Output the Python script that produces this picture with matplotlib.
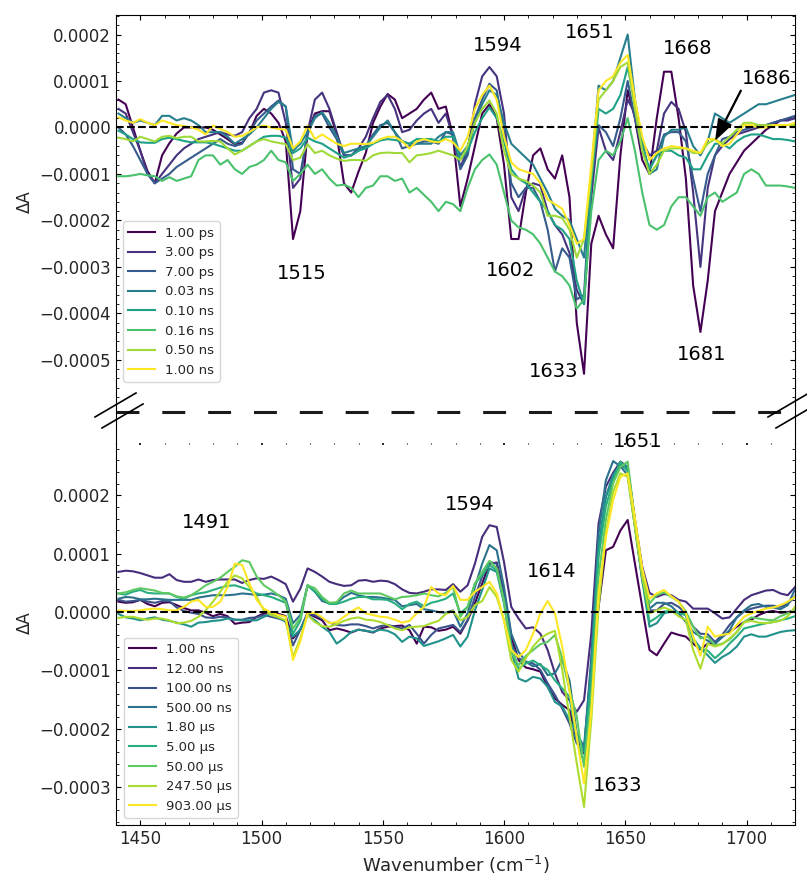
import numpy as np
import matplotlib
matplotlib.use("Agg")
import matplotlib.pyplot as plt
from matplotlib.ticker import AutoMinorLocator
from matplotlib.lines import Line2D

# ---------------- data (values in units of 1e-5 dA) ----------------
wavenumber = np.arange(1441, 1721, 3)

top_labels = ["1.00 ps", "3.00 ps", "7.00 ps", "0.03 ns", "0.10 ns", "0.16 ns", "0.50 ns", "1.00 ns"]
bottom_labels = ["1.00 ns", "12.00 ns", "100.00 ns", "500.00 ns", "1.80 \u00b5s", "5.00 \u00b5s",
                 "50.00 \u00b5s", "247.50 \u00b5s", "903.00 \u00b5s"]

t_1ps = [6, 5, 0, -5, -9.4, -12, -6, -3.4, -1.3, 0,
         0, 0, 0, -0.5, -1.5, -2.5, -3.6, -3.3, -1.2, 2.5,
         4, 3, 1, -3, -24, -18, -1, 3, 3.5, 3.5,
         -1.5, -12, -14, -9.5, -5.5, 1, 4.5, 7.2, 6, 2,
         3, 4, 6, 7.5, 4, 4.5, -2, -17, -11, -4,
         3, 5, 2, -8, -24, -24, -14, -6, -4.5, -9,
         -11, -6, -15, -42, -53, -25, -19, -23, -26, -6,
         8, 2, -7, -10, 2, 12, 12, 2, -11, -34,
         -44, -33, -18, -14, -10, -7.5, -5, -3.5, -2, -0.5,
         0.5, 1.5, 1.8, 2]
t_3ps = [4, 3, -1, -5, -10, -12, -10, -8, -6, -4.5,
         -3.5, -2.5, -2, -1.5, -1, -1.5, -1.8, -1, 2, 4,
         7.5, 8, 7.5, 1, -13, -11, -1, 6, 7.5, 4,
         -1, -6, -6, -4.5, -2, 2, 5.5, 7, 4, -1,
         -0.5, 1.5, 3, 4, 1, 3, -2, -8.5, -5, 5,
         11, 13, 11, 3, -15, -18, -13, -12, -12.5, -18,
         -21, -23, -27, -35, -38, -15, 0, -5, -7, -1,
         6, 3, -3, -6, -5, 3, 5.5, 4, -1, -14,
         -30, -13, -6, -4, -2.5, -1.5, -1, -0.5, 0, 0.5,
         1, 1.5, 1.5, 2]
t_7ps = [0, -1.5, -4, -7, -10, -12, -11, -10, -8.5, -7.5,
         -6.5, -5.5, -4.5, -3.5, -2.5, -3.5, -4, -3.5, -1, 1.5,
         3, 4.5, 5.8, 4.5, -9, -10, -1.5, 2.5, 3, 0,
         -2.5, -6, -6, -5, -4, -1.5, 0.5, 1, -1, -4.5,
         -4, -3.5, -3, -3, -3.5, -1, -1.5, -9, -6, 2,
         6, 9.4, 8, -1, -12, -15, -13, -13, -16, -22,
         -31, -26, -28, -37, -36, -10, 0.5, -1, -4, 2,
         10, 2, -5, -9, -6, -1.5, -1, -1, -3, -11,
         -18, -10, -6, -2.5, -2, -1, -0.5, 0, 0.5, 0.5,
         1, 1.5, 2, 2.5]
t_003ns = [3, 2, 1, 1.5, 1, 0.5, 2.5, 2.5, 1.5, 2,
           1.5, 0.5, -1, -1, -1, -2, -3.5, -2.5, -1.5, 0,
           2, 4, 5.5, 4.5, -5, -3.5, -1, 2, 3.3, 1,
           -2, -5.5, -5, -4.5, -4, -2, 0, 1.5, -1, -3,
           -3.5, -3.5, -3.5, -3.5, -2, -1, -1, -6, -4, 1,
           5, 8, 7, 1, -3.5, -5, -6.5, -8, -11, -14,
           -17.5, -19, -20, -24, -28, -10, 9, 8, 10, 15,
           20, 6, -3, -10, -9, -2, -0.5, -0.5, 0, -4,
           -6, -3, 3, 2, 1, 2, 3, 4, 5, 5,
           5.5, 6, 6.5, 7]
t_010ns = [-0.7, -1.5, -2.5, -3.2, -3.3, -3.3, -2.5, -2.2, -2.5, -2.9,
           -3.2, -3.2, -3.2, -3.5, -4, -4.5, -5, -5, -4, -3,
           -2, -1.8, -1.8, -2.2, -5.5, -4.5, -2.2, -3, -3.5, -4.5,
           -5.5, -6.5, -6, -5, -4.5, -3.5, -2.8, -2.5, -2.7, -3,
           -3.5, -2.5, -2.5, -2.5, -3, -2, -2, -7, -5, -1,
           2, 4.3, 2, -3, -9, -11, -12, -14, -16, -18,
           -21, -22, -24, -33, -38, -12, 4, 3, 4, 7,
           13, 5, -4, -9, -6, -5, -5, -6, -6.5, -9,
           -9, -6, -3.5, -3.5, -4.5, -3, -2, -1.5, -1.5, -2,
           -2.5, -2.5, -2.7, -3]
t_016ns = [-10.5, -10.5, -10.3, -10, -10.3, -10.5, -11.5, -10.7, -11.5, -11,
           -10.5, -7, -6, -6, -8, -7, -9, -10, -8.5, -8,
           -7, -5, -7, -7.5, -11.5, -10, -8, -10, -9, -11,
           -12.5, -12.3, -13, -15, -13, -12.5, -10.5, -10.5, -11.5, -11,
           -14, -13, -14.5, -16, -18, -16, -16.5, -18, -13, -9,
           -7, -5.8, -8, -14, -20, -21.5, -22, -23, -25, -28,
           -31, -32, -34, -39, -37, -18, -7, -5, -6, -3,
           2, -5, -14, -21, -22, -21, -17, -15, -15, -17,
           -19, -15, -14, -16, -15, -14, -10, -9, -10, -12.5,
           -12.5, -12.5, -12.7, -13]
t_050ns = [-2.2, -2.5, -3, -2, -2.5, -3, -2, -1.8, -2.3, -2,
           -2, -3, -3, -2.9, -3, -4.5, -5.8, -5, -4, -3,
           -2.5, -3, -3.3, -3.6, -7, -6.5, -3.6, -5.5, -5, -6,
           -6.7, -7.2, -7, -7, -7.2, -6, -5.5, -5.4, -5.5, -5.5,
           -7.5, -6, -5.8, -5.5, -5, -5.5, -6, -7, -4, 1,
           4, 5.8, 3, -5, -10, -11, -11.5, -12.5, -14, -19,
           -19, -19.5, -22, -28, -24, -10, 6, 8, 10, 13,
           14, 4, -5, -10, -8, -5, -4.5, -4.5, -4.5, -5.5,
           -5.5, -3.5, -2.5, -3.5, -2, -0.5, 1, 1, 0.5, 0.5,
           0.5, 0.5, 0.5, 0.5]
t_100ns = [2.2, 1.5, 1, 1.8, 1, 0.5, 1.5, 1, 0.5, 0.3,
           0, -0.5, -1.5, 0.4, -0.3, -1, -2, -1.8, -1, 0,
           0.4, 0, -0.3, -0.5, -4.5, -3, 0.4, -2.5, -1.5, -2.5,
           -3.5, -4, -3.5, -3.5, -3.6, -3.3, -2.5, -2, -2, -3,
           -4.5, -3, -2.5, -3, -3.2, -2.5, -3.2, -5, -2, 4,
           7, 9, 6, -2, -7.5, -9, -9.5, -10, -12, -15.5,
           -16.5, -17.5, -21, -25, -24, -8, 8, 10, 11, 14,
           15.6, 6, -2, -7, -5.5, -4.5, -4, -4.2, -4.5, -5,
           -5.5, -2.5, -2.5, -4, -3.5, -1.5, 0.5, 0.5, 0, 0,
           0.5, 0.5, 0.5, 1]

b_1ns = [1.8, 1.6, 1.7, 2.1, 1.4, 1, 1.6, 1.7, 1.2, 0.7,
         0.3, 0.3, -0.1, -0.7, -0.3, -0.7, -2, -1.8, -1.7, -0.8,
         -0.2, -0.2, -0.3, -0.7, -4.5, -3, -0.2, -0.8, -1.4, -3.1,
         -2.8, -3.1, -3.5, -3, -3.2, -3.5, -2.8, -2.5, -2.4, -2.3,
         -3.1, -5.4, -2.5, -2.6, -3.2, -3, -2.5, -3.7, -1.4, 1.5,
         4.9, 8.3, 8.5, 3.2, -4.2, -8.2, -9.5, -9.8, -10.2, -12.8,
         -14.8, -15.9, -16.8, -21.9, -24.2, -10.5, 0.9, 10.6, 11.2, 14,
         15.8, 8.3, 0.9, -6.5, -7.4, -5.4, -3.5, -3.9, -4.2, -5.4,
         -6.4, -5.4, -5.4, -4.2, -3.4, -2.5, -1.7, -1.3, -0.5, 0,
         0.2, -0.1, 0, 0.3]
b_12ns = [6.9, 7.1, 7, 6.7, 6.3, 5.9, 5.9, 6.5, 5.5, 5.2,
          5.2, 5.6, 5.2, 5.5, 5.6, 5.6, 5.6, 5, 5.5, 5.8,
          5.7, 6.1, 5.5, 4.8, 1.8, 4, 7.5, 6.9, 6.1, 5.2,
          4.8, 4.5, 4.6, 5.4, 5.5, 5.2, 5.4, 5.3, 4.8, 3.9,
          3.3, 3.2, 3.5, 3.9, 3.9, 3.8, 4.8, 3.5, 4.6, 8.3,
          12.9, 14.9, 14.6, 8.6, 0.9, -1.1, -2.8, -2.6, -3.7, -6.5,
          -10.5, -13.7, -15.1, -17.1, -15.1, -3.7, 15.2, 21.5, 23.9, 25.8,
          24.9, 15.8, 7.8, 3.3, 2.6, 3.1, 2.9, 2.1, 1.8, 0.6,
          0.6, 0.6, -0.2, -1.1, -0.9, 0.6, 2.1, 2.9, 3.3, 3.7,
          3.8, 3.2, 2.9, 4.3]
b_100ns = [2.1, 1.8, 1.9, 2.1, 1.8, 1.6, 1.9, 1.9, 0.8, 0.2,
           -0.1, -0.3, -0.9, -1, -0.8, -0.9, -1.3, -1.3, -1, -0.9,
           -0.5, -0.8, -1.1, -1.5, -5.7, -3, -0.2, -0.5, -1.1, -1.8,
           -2.2, -2.3, -2.1, -2.1, -2.4, -2.8, -2.4, -2.2, -2.5, -2.8,
           -2.2, -3.7, -5.4, -3.9, -2.8, -2.5, -2.2, -3.4, -1.4, 2.6,
           6.1, 8.6, 8.3, 2.6, -5.4, -7.9, -8.5, -8.8, -9.9, -12.2,
           -14.2, -16.5, -19.1, -22.5, -23.9, -7.7, 10.6, 19.8, 23.1, 25.2,
           24.5, 15.8, 6.1, 0.3, 0.3, 1.4, 1.6, 0.9, -0.2, -2.5,
           -3.7, -3.8, -5.1, -3.9, -2.2, -0.9, 0.1, 0.6, 0.9, 1.1,
           1.1, 0.9, 1.4, 2.7]
b_500ns = [2.3, 2.6, 2.5, 2.2, 2.2, 2.3, 2.2, 2.1, 2.1, 2.1,
           2.1, 2.5, 2.7, 2.9, 2.9, 2.9, 3, 3.2, 3.1, 2.9,
           3, 3.2, 2.9, 2.3, -1.9, -0.5, 4.6, 3.5, 1.9, 1.5,
           1.6, 2.6, 3.3, 2.9, 2.6, 2.6, 2.5, 2.3, 2.1, 1,
           1.2, 1.4, 0.5, 0.3, 0, -0.1, 0.3, -2.5, -0.2, 4.3,
           8.3, 11.5, 10.6, 4.3, -3.7, -6.8, -8.5, -9.3, -8.9, -10.8,
           -10.5, -8.2, -11.7, -20.8, -23.1, -8.8, 13.5, 22.6, 25.9, 25,
           23.5, 14.6, 5.5, 0.6, 1.6, 1.6, 1, -0.2, -1.7, -3.4,
           -4.2, -4.9, -5.4, -4.3, -3.1, -0.9, 0.3, 1.2, 1.4, 0.9,
           0.8, 0.5, 1.2, 3.9]
b_1p8us = [-0.3, -0.9, -1.1, -1.4, -1.1, -0.9, -1.3, -1.5, -1.8, -2.1,
           -2.5, -1.8, -1.7, -1.5, -1.4, -1.1, -1.3, -1.4, -1.4, -1.4,
           -0.8, -0.3, -0.9, -1.7, -4.2, -3, -0.5, -1.4, -2.5, -3.4,
           -5.4, -4.5, -3.4, -3, -3.2, -3.4, -3, -3.2, -3.8, -5.1,
           -4.2, -4.5, -5.8, -5.4, -5, -4.5, -3.9, -5.9, -4.2, 0.3,
           3.8, 7.5, 6.9, 1.5, -6.5, -11.4, -11.9, -11.1, -11.4, -12.8,
           -15.4, -16.2, -18.5, -20.8, -23.9, -9.4, 11.2, 19.8, 23.5, 25.5,
           24.9, 15.2, 5.5, -2.5, -1.9, -0.2, 0.1, -0.1, -0.5, -4.5,
           -6.2, -7.4, -8.7, -7.7, -7, -5.9, -4.2, -3.8, -4.2, -4.2,
           -3.8, -3.4, -3.2, -3.1]
b_5us = [3.2, 3, 3.5, 3.8, 3.3, 3.2, 3.2, 3.2, 2.6, 2.3,
         2.9, 3.2, 3.4, 3.8, 4.2, 4.5, 4.6, 4.2, 3.8, 3.2,
         2.9, 2.6, 2.1, 1.6, -3.7, -1.5, 4.6, 3.5, 2.3, 1.4,
         1.4, 1.8, 2.3, 2.6, 2.6, 2.2, 2.2, 2.1, 1.5, 0.5,
         1.4, 1.8, 1, 1.6, 1.9, 2.3, 3.2, -0.2, 0.9, 4.9,
         6.3, 8.1, 7.2, 2.1, -5.9, -9.7, -8.8, -8.3, -9.1, -9.9,
         -11.7, -13.1, -14.5, -21.9, -25.9, -11.7, 9.5, 18.1, 22.6, 25.8,
         24.1, 14.6, 6.1, -1.7, -0.9, 0.1, 0.2, -0.1, -0.5, -4.8,
         -6.2, -6.6, -7.9, -6.8, -5.4, -4.2, -2.8, -2.5, -2.2, -1.9,
         -1.7, -1.4, -1.1, -0.7]
b_50us = [3.2, 3.4, 3.8, 4.1, 3.9, 3.7, 3.3, 3.2, 2.7, 2.5,
          2.9, 3.7, 4.6, 5.2, 5.9, 6.9, 7.8, 8.9, 8.6, 6.1,
          4.6, 3.8, 2.9, 1.8, -2.8, -1, 4.6, 4.1, 2.6, 1.6,
          1.7, 3.2, 3.7, 3.2, 3.2, 3.2, 3.2, 2.7, 2.2, 2.6,
          2.7, 2.9, 3.2, 2.9, 2.7, 3.3, 4.3, -0.8, 0.9, 4.9,
          6.9, 8.8, 7.5, 1.8, -6.8, -9.1, -7.5, -6.5, -5.5, -5.1,
          -3.9, -7.9, -13.4, -17.9, -26.5, -15.1, 6.1, 15.8, 22.1, 24.9,
          25.8, 15.8, 7.2, 1.5, 2.9, 3.4, 2.6, 1.8, 0.1, -2.5,
          -4.5, -4.2, -5.7, -5.4, -4.7, -3.4, -1.7, -0.9, -1.1, -1.3,
          -1.4, -0.7, -0.2, 0.3]
b_247us = [-1, -0.8, -0.8, -1.1, -1.3, -1.1, -1.1, -1.4, -1.9, -1.8,
           -1.5, -0.8, 0.3, 1.8, 3.5, 5.2, 6.3, 5.8, 4.3, 2.6,
           0.3, -0.5, -0.9, -1.4, -7.7, -4.5, -0.5, -1.7, -2.4, -2.5,
           -2.1, -1.5, -1.1, -0.9, -1.3, -1.4, -1.7, -2.2, -2.8, -3.1,
           -2.6, -2.5, -2.4, -1.9, -1.5, -0.3, 0.2, -1.4, -0.8, 1.2,
           1.9, 4.3, 2.6, -1.4, -8.2, -10.2, -7.9, -5.9, -4.5, -3.7,
           -3.2, -9.9, -17.9, -25.9, -33.4, -18.5, 0.9, 13.5, 20.6, 23.8,
           23.2, 14.6, 6.1, -0.2, 0.3, 0.8, 0.3, -0.7, -1.4, -6.5,
           -9.7, -5.4, -5.9, -5.5, -4.5, -3.4, -1.7, -1.5, -1.8, -1.9,
           -1.7, -1.5, -0.7, 0.9]
b_903us = [0.3, 0.2, 0.2, 0.3, 0.5, 0.6, 0.5, 0.3, 0.3, 0.9,
           1.8, 2.1, 0.9, 0.9, 1.8, 4.3, 8.3, 8.1, 4.9, 2.1,
           0.6, -0.1, -0.5, -0.8, -8.2, -5, -0.2, -0.1, -0.9, -1.9,
           -1.7, -0.8, 0.1, 0.8, -0.2, -0.5, -0.8, -0.9, -1.3, -1.8,
           -1.5, -0.2, 0.9, 4.3, 3.2, 2.9, 4.5, 2.1, 2.1, 3.5,
           4.3, 5.2, 3.2, -1.4, -6.5, -7.7, -6.5, -3.7, -0.2, 1.9,
           -0.2, -5.9, -13.4, -21.4, -29.4, -16.8, 3.2, 12.9, 19.2, 23.2,
           23.8, 16.1, 7.5, 2.3, 3.2, 3.8, 2.7, 1.8, -0.2, -4.2,
           -7.5, -2.5, -4.2, -3.9, -3.7, -2.2, -0.8, -0.2, 0.2, 0.6,
           0.8, 1.2, 1.8, 2.6]

top_series = [t_1ps, t_3ps, t_7ps, t_003ns, t_010ns, t_016ns, t_050ns, t_100ns]
bottom_series = [b_1ns, b_12ns, b_100ns, b_500ns, b_1p8us, b_5us, b_50us, b_247us, b_903us]
UNIT = 1e-5

# ---------------- figure ----------------
W, H = 807, 875
plt.rcParams["font.family"] = "DejaVu Sans"
fig = plt.figure(figsize=(W / 100, H / 100), dpi=100)

def fx(px):
    return px / W

def fy(py):
    return 1 - py / H

L, R = 116, 795
T1, B1 = 15, 404
T2, B2 = 443, 825
ax1 = fig.add_axes([fx(L), fy(B1), fx(R) - fx(L), fy(T1) - fy(B1)])
ax2 = fig.add_axes([fx(L), fy(B2), fx(R) - fx(L), fy(T2) - fy(B2)])

txt = "#262626"
top_colors = plt.cm.viridis(np.linspace(0, 1, len(top_series)))
bot_colors = plt.cm.viridis(np.linspace(0, 1, len(bottom_series)))

for s, lab, c in zip(top_series, top_labels, top_colors):
    ax1.plot(wavenumber, np.array(s) * UNIT, color=c, lw=1.5, label=lab)
for s, lab, c in zip(bottom_series, bottom_labels, bot_colors):
    ax2.plot(wavenumber, np.array(s) * UNIT, color=c, lw=1.5, label=lab)

for ax in (ax1, ax2):
    ax.axhline(0, color="k", ls="--", lw=1.5, zorder=3)
    ax.set_xlim(1440, 1720)
    ax.xaxis.set_minor_locator(AutoMinorLocator())
    ax.yaxis.set_minor_locator(AutoMinorLocator())
    ax.ticklabel_format(axis="y", style="plain", useOffset=False)
    ax.set_ylabel("\u0394A", fontsize=12, color=txt)
    ax.tick_params(which="both", direction="in", labelsize=12, labelcolor=txt)

ax1.set_ylim(-5.95e-4, 2.42e-4)
ax2.set_ylim(-3.65e-4, 2.90e-4)

# y-label: anchor is the label's right edge (text bottom when rotated)
ax1.yaxis.set_label_coords((34 - L) / (R - L), (B1 - 202) / (B1 - T1))
ax2.yaxis.set_label_coords((34 - L) / (R - L), (B2 - 623) / (B2 - T2))

ax1.spines["bottom"].set_visible(False)
ax1.tick_params(which="both", top=True, right=True, bottom=False, labelbottom=False)
ax2.spines["top"].set_visible(False)
ax2.tick_params(which="both", top=False, right=True)
ax2.set_xlabel("Wavenumber (cm$^{-1}$)", fontsize=13, color=txt)

# faint tick marks of the hidden upper edge of the lower panel
sec = ax2.secondary_xaxis("top")
sec.xaxis.set_minor_locator(AutoMinorLocator())
sec.spines["top"].set_visible(False)
sec.tick_params(which="major", direction="in", length=1.5, width=1.2, labeltop=False)
sec.tick_params(which="minor", direction="in", length=1.0, width=0.8)

# legends
ax1.legend(loc="lower left", bbox_to_anchor=(7 / (R - L), 22 / (B1 - T1)), borderaxespad=0,
           fontsize=9.5, labelcolor=txt)
ax2.legend(loc="lower left", bbox_to_anchor=(8 / (R - L), 7 / (B2 - T2)), borderaxespad=0,
           fontsize=9.5, labelcolor=txt)

# peak annotations
ann = dict(fontsize=14, ha="center", va="center", color="k")
ax1.text(1516.7, -3.15e-4, "1515", **ann)
ax1.text(1597.5, 1.77e-4, "1594", **ann)
ax1.text(1602.9, -3.07e-4, "1602", **ann)
ax1.text(1635.5, 2.05e-4, "1651", **ann)
ax1.text(1620.6, -5.26e-4, "1633", **ann)
ax1.text(1675.9, 1.69e-4, "1668", **ann)
ax1.text(1681.6, -4.89e-4, "1681", **ann)
ax1.annotate("1686", xy=(1687.4, -0.25e-4), xytext=(1708.5, 1.06e-4),
             fontsize=14, ha="center", va="center",
             arrowprops=dict(facecolor="black", edgecolor="black", width=0.6,
                             headwidth=10, headlength=14, shrink=0.0))

ax2.text(1477.5, 1.53e-4, "1491", **ann)
ax2.text(1586.0, 1.84e-4, "1594", **ann)
ax2.text(1619.8, 0.69e-4, "1614", **ann)
ax2.text(1655.3, 2.92e-4, "1651", **ann).set_clip_on(False)
ax2.text(1647.0, -2.98e-4, "1633", **ann)

# axis break decorations
fig.add_artist(Line2D([fx(L), fx(R)], [fy(412), fy(412)], color="#1a1a1a", lw=2.2,
                      ls=(0, (7.5, 7.5))))
for (x0, y0, x1, y1) in [(95, 417, 136, 393), (102, 428, 143, 404),
                         (768, 417, 809, 393), (776, 428, 817, 404)]:
    fig.add_artist(Line2D([fx(x0), fx(x1)], [fy(y0), fy(y1)], color="k", lw=1.2))
for xs in (L, R):
    fig.add_artist(Line2D([fx(xs), fx(xs)], [fy(B1), fy(T2)], color="k", lw=0.8))

fig.savefig("out.png", dpi=100)
